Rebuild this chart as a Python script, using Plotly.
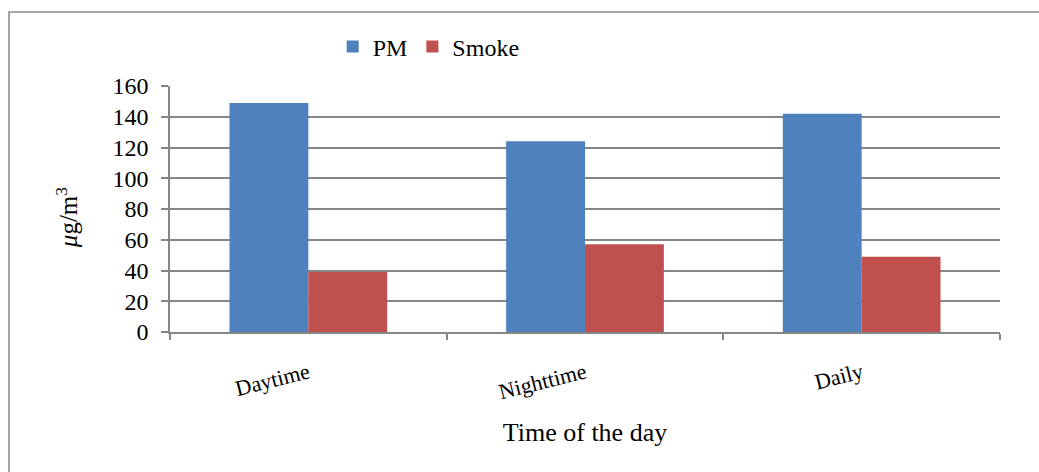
import plotly.graph_objects as go

categories = ["Daytime", "Nighttime", "Daily"]
pm_values = [149, 124, 142]
smoke_values = [39, 57, 49]
y_ticks = [0, 20, 40, 60, 80, 100, 120, 140, 160]

FONT = "Liberation Serif, Times New Roman, serif"
GRID = "#868686"

fig = go.Figure()
fig.add_trace(go.Bar(name="PM", x=categories, y=pm_values, marker=dict(color="#4F81BD", line=dict(width=0))))
fig.add_trace(go.Bar(name="Smoke", x=categories, y=smoke_values, marker=dict(color="#C0504D", line=dict(width=0))))

fig.update_layout(
    width=1039, height=472,
    margin=dict(l=170, r=39, t=86, b=140),
    paper_bgcolor="white", plot_bgcolor="white",
    barmode="group", bargap=0.43, bargroupgap=0,
    font=dict(family=FONT, size=24, color="black"),
    showlegend=True,
    legend=dict(orientation="h", x=0.196, xanchor="left", y=1.159, yanchor="middle",
                font=dict(family=FONT, size=24), itemwidth=30, tracegroupgap=0,
                bgcolor="rgba(0,0,0,0)"),
    xaxis=dict(
        showgrid=False, showline=True, linecolor=GRID, linewidth=1.5,
        ticks="outside", tickson="boundaries", ticklen=6, tickcolor=GRID, tickwidth=1.5,
        tickangle=-14, tickfont=dict(family=FONT, size=22), ticklabelstandoff=18,
        title=dict(text="Time of the day", font=dict(family=FONT, size=26), standoff=20),
    ),
    yaxis=dict(
        range=[0, 160], tickvals=y_ticks, showgrid=True, gridcolor=GRID, gridwidth=1.5,
        showline=True, linecolor=GRID, linewidth=1.5,
        ticks="outside", ticklen=7, tickcolor=GRID, tickwidth=1.5,
        tickfont=dict(family=FONT, size=24), ticklabelstandoff=8,
        zeroline=False,
    ),
    annotations=[dict(text="<i>μ</i>g/m<sup>3</sup>", textangle=-90, showarrow=False,
                      xref="paper", yref="paper", x=-0.124, y=0.463,
                      xanchor="center", yanchor="middle",
                      font=dict(family=FONT, size=25))],
    shapes=[dict(type="rect", xref="paper", yref="paper",
                 x0=-0.194, x1=1.2, y0=-0.7, y1=1.301,
                 line=dict(color="#8a8a8a", width=1.5), fillcolor="rgba(0,0,0,0)", layer="below")],
)

fig.write_html("out.html", config={"displayModeBar": False},
               post_script="document.body.style.margin='0';document.body.style.overflow='hidden';")
